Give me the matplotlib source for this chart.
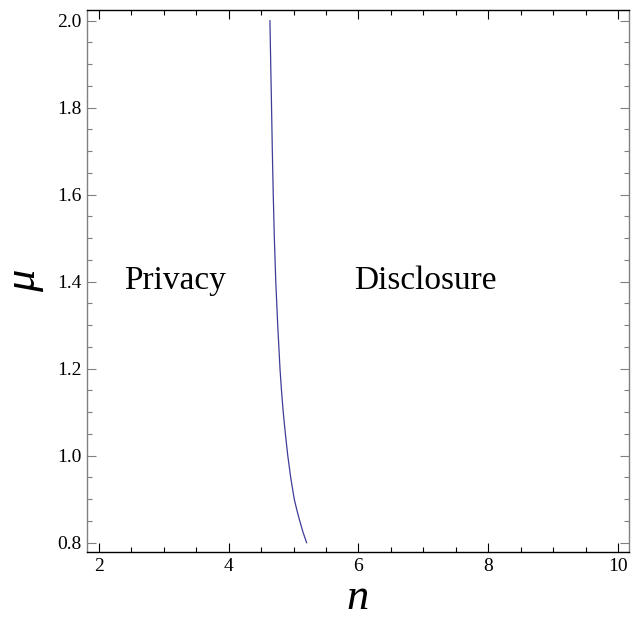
import matplotlib
matplotlib.use("Agg")
import matplotlib.pyplot as plt
from matplotlib.ticker import MultipleLocator

# boundary curve (mu on y, n on x)
mu_vals = [2.0, 1.9, 1.8, 1.7, 1.6, 1.5, 1.4, 1.3, 1.2, 1.15, 1.1, 1.05,
           1.0, 0.95, 0.9, 0.875, 0.85, 0.825, 0.8]
n_vals = [4.635, 4.647, 4.66, 4.672, 4.686, 4.703, 4.725, 4.755, 4.79, 4.813,
          4.84, 4.873, 4.91, 4.955, 5.01, 5.05, 5.095, 5.143, 5.2]

region_labels = ["Privacy", "Disclosure"]
region_x = [3.17, 7.03]
region_y = [1.383, 1.383]

plt.rcParams['font.family'] = ['Liberation Serif', 'DejaVu Serif']

fig = plt.figure(figsize=(6.43, 6.26), dpi=100)
ax = fig.add_axes([87 / 643, 1 - 552 / 626, 542 / 643, 542 / 626])

ax.plot(n_vals, mu_vals, color='#3d3d99', lw=0.9)

for lab, x, y in zip(region_labels, region_x, region_y):
    ax.text(x, y, lab, ha='center', va='baseline', fontsize=24)

ax.set_xlim(1.815, 10.17)
ax.set_ylim(0.7786, 2.0246)
ax.xaxis.set_major_locator(MultipleLocator(2))
ax.xaxis.set_minor_locator(MultipleLocator(0.5))
ax.yaxis.set_major_locator(MultipleLocator(0.2))
ax.yaxis.set_minor_locator(MultipleLocator(0.05))
ax.yaxis.set_major_formatter(plt.FuncFormatter(lambda v, p: f"{v:.1f}"))

ax.tick_params(which='both', direction='in', top=True, right=True, labelsize=14, pad=4)
ax.tick_params(which='major', length=6.5, width=0.8)
ax.tick_params(which='minor', length=3.5, width=0.8)
ax.tick_params(axis='y', which='both', color='#808080')

for s in ['left', 'right']:
    ax.spines[s].set_color('#808080')
for s in ['top', 'bottom']:
    ax.spines[s].set_color('black')
for s in ax.spines.values():
    s.set_linewidth(1.0)

ax.set_xlabel('n', fontsize=32, fontstyle='italic')
ax.set_ylabel('μ', fontsize=32, fontstyle='italic')
ax.xaxis.set_label_coords(0.5, -0.048)
ax.yaxis.set_label_coords(-0.08, 0.5)

fig.savefig("out.png", dpi=100)
